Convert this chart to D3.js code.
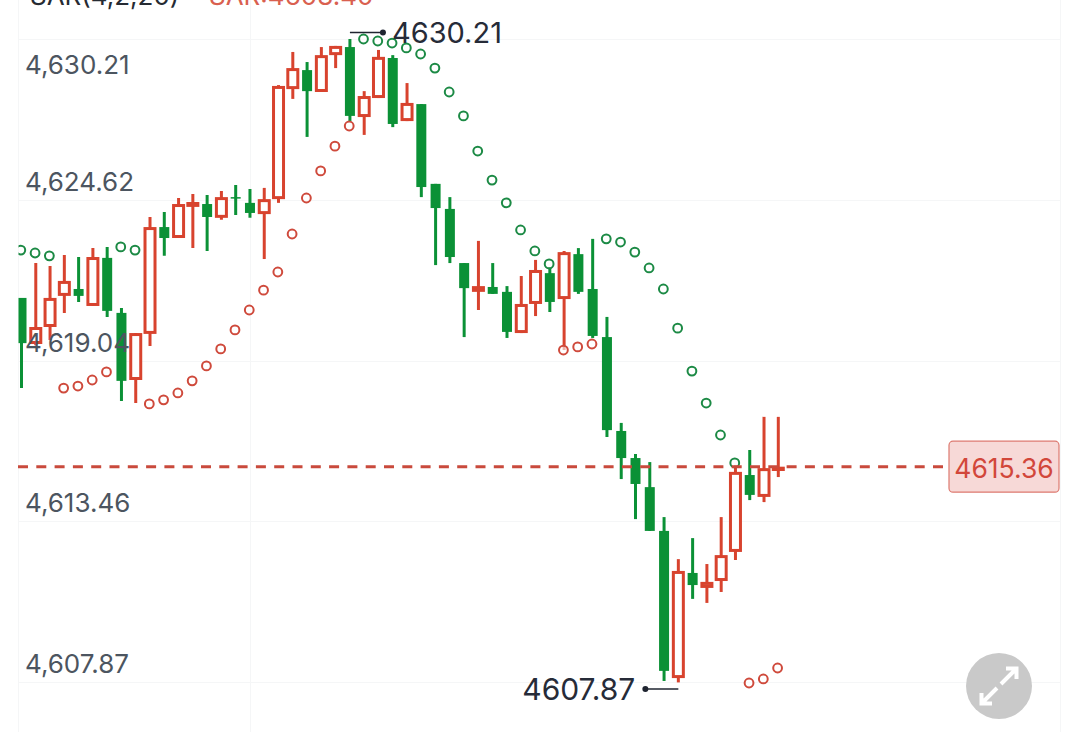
<!DOCTYPE html>
<html><head><meta charset="utf-8">
<script src="https://cdnjs.cloudflare.com/ajax/libs/d3/7.9.0/d3.min.js"></script>
<style>html,body{margin:0;padding:0;background:#fff;overflow:hidden}svg{display:block}text{font-family:Inter,Roboto,sans-serif}</style>
</head><body><svg id="c" width="1080" height="732"></svg>
<script>
const opens=[4621.22,4619.62,4620.21,4621.29,4621.53,4620.94,4622.61,4620.70,4618.37,4619.97,4623.68,4623.30,4624.38,4624.48,4624.00,4624.72,4624.52,4624.13,4624.65,4628.47,4629.13,4628.37,4629.65,4629.93,4627.50,4628.16,4629.55,4627.36,4627.95,4625.18,4624.31,4622.43,4621.43,4621.60,4621.43,4620.00,4621.01,4622.08,4621.18,4622.74,4621.53,4619.86,4616.60,4615.66,4614.65,4613.13,4608.02,4611.67,4611.15,4611.39,4612.40,4615.07,4614.31,4615.21];
const closes=[4619.65,4620.21,4621.22,4621.81,4621.29,4622.64,4620.77,4618.34,4620.00,4623.68,4623.30,4624.48,4624.55,4624.03,4624.72,4624.69,4624.17,4624.65,4628.58,4629.20,4628.40,4629.65,4629.97,4627.54,4628.23,4629.59,4627.26,4627.99,4625.07,4624.34,4622.64,4621.56,4621.63,4621.36,4620.04,4621.01,4622.19,4621.08,4622.81,4621.43,4619.90,4616.63,4615.66,4614.76,4613.13,4608.27,4611.74,4611.25,4611.36,4612.29,4615.18,4614.38,4615.31,4615.36];
const highs=[4621.22,4622.43,4622.33,4622.71,4622.64,4622.95,4622.99,4620.87,4620.00,4624.03,4624.20,4624.69,4624.83,4624.79,4624.93,4625.14,4625.00,4625.04,4628.61,4629.76,4629.41,4629.93,4629.97,4630.21,4628.40,4629.83,4629.65,4628.68,4627.95,4625.18,4624.72,4622.43,4623.20,4622.43,4621.63,4621.98,4622.54,4622.29,4622.85,4622.95,4623.27,4620.56,4616.88,4615.80,4615.52,4613.61,4612.15,4612.88,4611.98,4613.61,4615.42,4615.94,4617.09,4617.09];
const lows=[4618.09,4619.58,4619.76,4620.70,4621.08,4620.94,4620.56,4617.64,4617.57,4619.55,4622.68,4623.30,4622.95,4622.85,4623.93,4624.10,4624.00,4622.57,4624.52,4628.13,4626.81,4628.37,4629.20,4627.36,4626.88,4628.16,4627.15,4627.36,4624.72,4622.36,4622.43,4619.86,4620.80,4621.36,4619.83,4620.00,4620.59,4620.73,4619.41,4621.36,4619.83,4616.39,4614.93,4613.54,4613.13,4607.92,4607.87,4610.77,4610.63,4611.01,4612.12,4614.20,4614.13,4615.00];
const sarValues=[4622.88,4622.78,4622.68,4618.09,4618.16,4618.37,4618.65,4622.99,4622.88,4617.54,4617.68,4617.92,4618.34,4618.86,4619.45,4620.11,4620.80,4621.49,4622.12,4623.44,4624.69,4625.63,4626.49,4627.19,4630.21,4630.14,4630.07,4629.90,4629.69,4629.20,4628.37,4627.54,4626.32,4625.31,4624.52,4623.58,4622.85,4622.40,4619.41,4619.52,4619.62,4623.27,4623.16,4622.81,4622.26,4621.53,4620.17,4618.68,4617.57,4616.46,4615.49,4607.85,4607.99,4608.37];
const sarSide=["g","g","g","r","r","r","r","g","g","r","r","r","r","r","r","r","r","r","r","r","r","r","r","r","g","g","g","g","g","g","g","g","g","g","g","g","g","g","r","r","r","g","g","g","g","g","g","g","g","g","g","r","r","r"];
const axisTicks=[4630.21,4624.62,4619.04,4613.46,4607.87];
const lastPrice=4615.36, maxPrice=4630.21, minPrice=4607.87;
const legendLeft="SAR(4,2,20)", legendRight="SAR:4608.40";

const RED="#d8432e", GREEN="#0b9136", DOTRED="#cf4a3c", DOTGREEN="#1c8a45";
const svg=d3.select("#c");
const x=d3.scaleLinear().domain([0,53]).range([21.5,778.3]);
const y=d3.scaleLinear().domain([4630.21,4607.87]).range([39,682.4]);

// grid
const grid=svg.append("g").attr("stroke","#f5f6f7").attr("stroke-width",1);
grid.selectAll("line.h").data(axisTicks).join("line").attr("class","h")
  .attr("x1",18).attr("x2",1060).attr("y1",d=>Math.round(y(d))+.5).attr("y2",d=>Math.round(y(d))+.5);
grid.selectAll("line.v").data([18.5,250.5,1060.5]).join("line").attr("class","v")
  .attr("x1",d=>d).attr("x2",d=>d).attr("y1",0).attr("y2",732);

// clip for candles
svg.append("defs").append("clipPath").attr("id","plot").append("rect").attr("x",18.5).attr("y",0).attr("width",1042).attr("height",732);
const plot=svg.append("g").attr("clip-path","url(#plot)");

const candles=opens.map((o,i)=>({i,o,c:closes[i],h:highs[i],l:lows[i],up:closes[i]>=o}));
// wicks
plot.selectAll("line.w").data(candles).join("line").attr("class","w")
  .attr("x1",d=>x(d.i)).attr("x2",d=>x(d.i)).attr("y1",d=>y(d.h)).attr("y2",d=>y(d.l))
  .attr("stroke",d=>d.up?RED:GREEN).attr("stroke-width",3);
// bodies
plot.selectAll("rect.g").data(candles.filter(d=>!d.up)).join("rect").attr("class","g")
  .attr("x",d=>x(d.i)-5).attr("width",10).attr("y",d=>y(d.o)).attr("height",d=>Math.max(1.5,y(d.c)-y(d.o)))
  .attr("fill",GREEN);
plot.selectAll("rect.r").data(candles.filter(d=>d.up)).join("rect").attr("class","r")
  .attr("x",d=>x(d.i)-5).attr("width",10).attr("y",d=>y(d.c)+1.5).attr("height",d=>Math.max(1,y(d.o)-y(d.c)-3))
  .attr("fill","#fff").attr("stroke",RED).attr("stroke-width",3);

// SAR
plot.selectAll("circle").data(sarValues.map((v,i)=>({i,v,s:sarSide[i]}))).join("circle")
  .attr("cx",d=>x(d.i)-.7).attr("cy",d=>y(d.v)).attr("r",4.4)
  .attr("fill","#fff").attr("fill-opacity",.6).attr("stroke",d=>d.s==="g"?DOTGREEN:DOTRED).attr("stroke-width",2);

// axis labels (drawn through d3.axisLeft)
const axis=d3.axisLeft(y).tickValues(axisTicks).tickSize(0).tickFormat(d3.format(",.2f"));
const ag=svg.append("g").attr("transform","translate(25,0)").call(axis);
ag.select(".domain").remove();
ag.selectAll("text").attr("text-anchor","start").attr("x",0).attr("dy",0)
  .attr("y",d=>d===axisTicks[0]?24.5:-19).attr("dominant-baseline","central")
  .attr("fill","#4c5560").style("font-size","26px").style("font-family","Inter,Roboto,sans-serif");

// last price line
const ly=y(lastPrice);
svg.append("line").attr("x1",18).attr("x2",943).attr("y1",ly).attr("y2",ly)
  .attr("stroke","#c94a3c").attr("stroke-width",3).attr("stroke-dasharray","10 8.3");
svg.append("rect").attr("x",949).attr("y",ly-25.5).attr("width",110).attr("height",51).attr("rx",4)
  .attr("fill","#f7d9d7").attr("stroke","#dd7a70").attr("stroke-width",1.2);
svg.append("text").attr("x",1004).attr("y",ly+1.5).attr("text-anchor","middle").attr("dominant-baseline","central")
  .attr("fill","#d2473a").style("font-size","26.5px").text(d3.format(".2f")(lastPrice));

// extreme markers
function marker(v,xi,dx,textAnchor,tx,dy,fs){
  const yy=y(v)+dy;
  const px=x(xi);
  svg.append("line").attr("x1",px).attr("x2",px+dx).attr("y1",yy).attr("y2",yy).attr("stroke","#1f2430").attr("stroke-width",1.5);
  svg.append("circle").attr("cx",px+dx).attr("cy",yy).attr("r",3).attr("fill","#1f2430");
  svg.append("text").attr("x",px+dx+tx).attr("y",yy).attr("text-anchor",textAnchor).attr("dominant-baseline","central")
    .attr("fill","#262b38").style("font-size",fs+"px").text(d3.format(".2f")(v));
}
marker(maxPrice,23,33,"start",9,-6.5,29);
marker(minPrice,46,-33,"end",-10,6.5,30);

// legend, clipped by the window's top edge
svg.append("text").attr("x",30).attr("y",5).attr("fill","#262b33").style("font-size","26px").text(legendLeft);
svg.append("text").attr("x",209).attr("y",5).attr("fill","#d9604f").style("font-size","26px").text(legendRight);

// fullscreen button
const b=svg.append("g").attr("transform","translate(999,686)");
b.append("circle").attr("r",33).attr("fill","#c9c9c9");
b.append("path").attr("d","M2,-2L17,-17M7,-17.5H17.5V-7M-2,2L-17,17M-7,17.5H-17.5V7")
  .attr("fill","none").attr("stroke","#fff").attr("stroke-width",4);
</script></body></html>
